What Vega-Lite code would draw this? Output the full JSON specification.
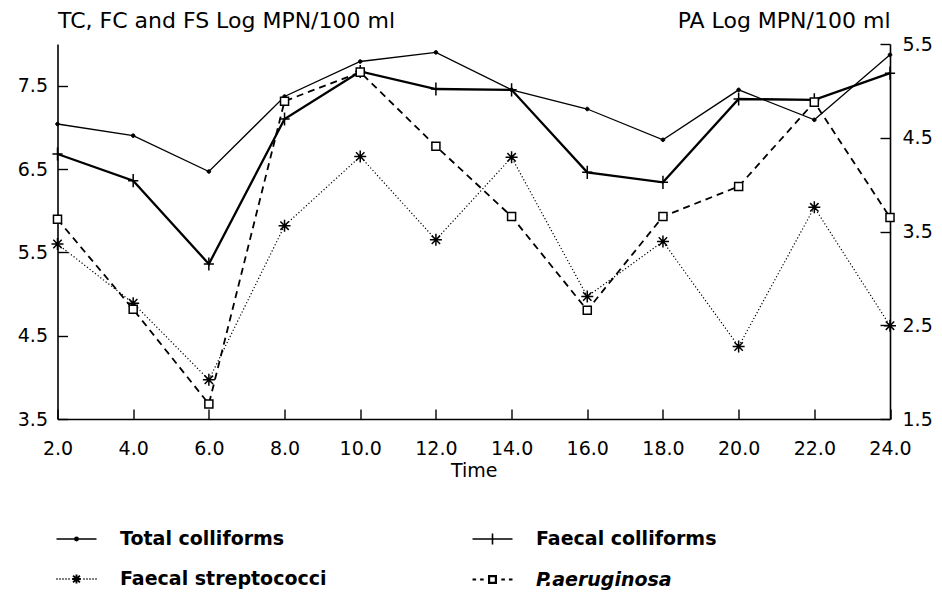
{
  "$schema": "https://vega.github.io/schema/vega-lite/v6.json",
  "width": 832.5,
  "height": 375,
  "autosize": "none",
  "padding": {"left": 57.5, "top": 44, "right": 52, "bottom": 177},
  "background": "white",
  "config": {
    "view": {"stroke": null},
    "font": "DejaVu Sans",
    "axis": {
      "grid": false,
      "domainColor": "black",
      "domainWidth": 1.6,
      "tickColor": "black",
      "tickWidth": 1.4,
      "tickSize": -10,
      "labelFont": "DejaVu Sans",
      "labelFontSize": 19,
      "labelColor": "black",
      "labelFlush": false,
      "labelOverlap": false,
      "titleFont": "DejaVu Sans",
      "titleFontWeight": "normal",
      "titleColor": "black"
    },
    "legend": {
      "columnPadding": 141,
      "rowPadding": 9,
      "padding": 0,
      "symbolSize": 1600,
      "symbolOpacity": 1,
      "labelOffset": 22,
      "labelFont": "DejaVu Sans",
      "labelFontSize": 19,
      "labelFontWeight": "bold",
      "labelColor": "black",
      "labelLimit": 400
    }
  },
  "data": {
    "values": [
      {"t": 2, "s": "Total colliforms", "v": 7.04},
      {"t": 4, "s": "Total colliforms", "v": 6.9},
      {"t": 6, "s": "Total colliforms", "v": 6.47},
      {"t": 8, "s": "Total colliforms", "v": 7.37},
      {"t": 10, "s": "Total colliforms", "v": 7.79},
      {"t": 12, "s": "Total colliforms", "v": 7.9},
      {"t": 14, "s": "Total colliforms", "v": 7.45},
      {"t": 16, "s": "Total colliforms", "v": 7.22},
      {"t": 18, "s": "Total colliforms", "v": 6.85},
      {"t": 20, "s": "Total colliforms", "v": 7.45},
      {"t": 22, "s": "Total colliforms", "v": 7.09},
      {"t": 24, "s": "Total colliforms", "v": 7.87},
      {"t": 2, "s": "Faecal colliforms", "v": 6.68},
      {"t": 4, "s": "Faecal colliforms", "v": 6.36},
      {"t": 6, "s": "Faecal colliforms", "v": 5.36},
      {"t": 8, "s": "Faecal colliforms", "v": 7.1},
      {"t": 10, "s": "Faecal colliforms", "v": 7.67},
      {"t": 12, "s": "Faecal colliforms", "v": 7.46},
      {"t": 14, "s": "Faecal colliforms", "v": 7.45},
      {"t": 16, "s": "Faecal colliforms", "v": 6.46},
      {"t": 18, "s": "Faecal colliforms", "v": 6.34},
      {"t": 20, "s": "Faecal colliforms", "v": 7.34},
      {"t": 22, "s": "Faecal colliforms", "v": 7.33},
      {"t": 24, "s": "Faecal colliforms", "v": 7.65},
      {"t": 2, "s": "Faecal streptococci", "v": 5.6},
      {"t": 4, "s": "Faecal streptococci", "v": 4.89},
      {"t": 6, "s": "Faecal streptococci", "v": 3.97},
      {"t": 8, "s": "Faecal streptococci", "v": 5.82},
      {"t": 10, "s": "Faecal streptococci", "v": 6.65},
      {"t": 12, "s": "Faecal streptococci", "v": 5.65},
      {"t": 14, "s": "Faecal streptococci", "v": 6.64},
      {"t": 16, "s": "Faecal streptococci", "v": 4.97},
      {"t": 18, "s": "Faecal streptococci", "v": 5.63},
      {"t": 20, "s": "Faecal streptococci", "v": 4.37},
      {"t": 22, "s": "Faecal streptococci", "v": 6.04},
      {"t": 24, "s": "Faecal streptococci", "v": 4.62},
      {"t": 2, "s": "P.aeruginosa", "v": 3.63},
      {"t": 4, "s": "P.aeruginosa", "v": 2.67},
      {"t": 6, "s": "P.aeruginosa", "v": 1.66},
      {"t": 8, "s": "P.aeruginosa", "v": 4.89},
      {"t": 10, "s": "P.aeruginosa", "v": 5.2},
      {"t": 12, "s": "P.aeruginosa", "v": 4.41},
      {"t": 14, "s": "P.aeruginosa", "v": 3.66},
      {"t": 16, "s": "P.aeruginosa", "v": 2.66},
      {"t": 18, "s": "P.aeruginosa", "v": 3.66},
      {"t": 20, "s": "P.aeruginosa", "v": 3.98},
      {"t": 22, "s": "P.aeruginosa", "v": 4.88},
      {"t": 24, "s": "P.aeruginosa", "v": 3.65}
    ]
  },
  "encoding": {
    "x": {
      "field": "t",
      "type": "quantitative",
      "scale": {"domain": [2, 24], "nice": false, "zero": false},
      "axis": {
        "title": "Time",
        "titleFontSize": 19,
        "titlePadding": 3,
        "values": [2, 4, 6, 8, 10, 12, 14, 16, 18, 20, 22, 24],
        "format": ".1f",
        "labelPadding": 30
      }
    }
  },
  "layer": [
    {
      "transform": [{"filter": "datum.s !== 'P.aeruginosa'"}],
      "encoding": {
        "y": {
          "field": "v",
          "type": "quantitative",
          "scale": {"domain": [3.5, 8.0], "nice": false, "zero": false},
          "axis": {
            "orient": "left",
            "title": "TC, FC and FS Log MPN/100 ml",
            "titleFontSize": 22,
            "titleAngle": 0,
            "titleAlign": "left",
            "titleBaseline": "middle",
            "titleX": 0,
            "titleY": -24,
            "values": [3.5, 4.5, 5.5, 6.5, 7.5],
            "format": ".1f",
            "labelPadding": 20
          }
        }
      },
      "layer": [
        {
          "transform": [{"filter": "datum.s === 'Total colliforms'"}],
          "mark": {"type": "line", "color": "black", "strokeWidth": 1.3},
          "encoding": {}
        },
        {
          "transform": [{"filter": "datum.s === 'Faecal colliforms'"}],
          "mark": {"type": "line", "color": "black", "strokeWidth": 2.3},
          "encoding": {}
        },
        {
          "transform": [{"filter": "datum.s === 'Faecal streptococci'"}],
          "mark": {"type": "line", "color": "black", "strokeWidth": 1.2, "strokeDash": [1.2, 2.2]},
          "encoding": {}
        },
        {
          "transform": [{"filter": "datum.s === 'Total colliforms'"}],
          "mark": {"type": "point", "shape": "M-0.3,0A0.3,0.3,0,1,0,0.3,0A0.3,0.3,0,1,0,-0.3,0Z", "filled": true, "fill": "black", "stroke": "black", "strokeWidth": 1, "opacity": 1, "size": 144}
        },
        {
          "transform": [{"filter": "datum.s === 'Faecal colliforms'"}],
          "mark": {"type": "point", "shape": "M0,-1.1L0,1.1M-0.85,0L0.85,0", "filled": false, "stroke": "black", "strokeWidth": 1.5, "opacity": 1, "size": 144}
        },
        {
          "transform": [{"filter": "datum.s === 'Faecal streptococci'"}],
          "mark": {"type": "point", "shape": "M0,-1L0,1M-1,0L1,0M-0.7,-0.7L0.7,0.7M-0.7,0.7L0.7,-0.7", "filled": false, "stroke": "black", "strokeWidth": 1.5, "opacity": 1, "size": 144}
        },
        {
          "transform": [{"filter": "datum.t === 2"}],
          "mark": {"type": "point", "filled": true, "stroke": "black", "opacity": 0, "size": 1600},
          "encoding": {
            "shape": {
              "field": "s",
              "scale": {
                "domain": ["Total colliforms", "Faecal colliforms", "Faecal streptococci", "P.aeruginosa"],
                "range": [
                  "M-1,0L1,0M-0.09,0A0.09,0.09,0,1,0,0.09,0A0.09,0.09,0,1,0,-0.09,0Z",
                  "M-1,0L1,0M0,-0.28L0,0.28",
                  "M-1,0L-0.95,0M-0.85,0L-0.8,0M-0.7,0L-0.65,0M-0.55,0L-0.5,0M-0.4,0L-0.35,0M0.35,0L0.4,0M0.5,0L0.55,0M0.65,0L0.7,0M0.8,0L0.85,0M0.95,0L1,0M0,-0.22L0,0.22M-0.22,0L0.22,0M-0.17,-0.17L0.17,0.17M-0.17,0.17L0.17,-0.17",
                  "M-1,0L-0.82,0M-0.62,0L-0.44,0M0.44,0L0.62,0M0.82,0L1,0M-0.17,-0.17L0.17,-0.17L0.17,0.17L-0.17,0.17Z"
                ]
              },
              "legend": {
                "title": null,
                "orient": "none",
                "direction": "horizontal",
                "legendX": -2.5,
                "legendY": 474,
                "columns": 2,
                "labelFontStyle": {"expr": "datum.value === 'P.aeruginosa' ? 'italic' : 'normal'"}
              }
            },
            "fill": {
              "field": "s",
              "scale": {
                "domain": ["Total colliforms", "Faecal colliforms", "Faecal streptococci", "P.aeruginosa"],
                "range": ["black", "white", "white", "white"]
              }
            },
            "strokeWidth": {
              "field": "s",
              "scale": {
                "domain": ["Total colliforms", "Faecal colliforms", "Faecal streptococci", "P.aeruginosa"],
                "range": [1.3, 2.2, 1.3, 1.4]
              }
            }
          }
        }
      ]
    },
    {
      "transform": [{"filter": "datum.s === 'P.aeruginosa'"}],
      "encoding": {
        "y": {
          "field": "v",
          "type": "quantitative",
          "scale": {"domain": [1.5, 5.5], "nice": false, "zero": false},
          "axis": {
            "orient": "right",
            "title": "PA Log MPN/100 ml",
            "titleFontSize": 22,
            "titleAngle": 0,
            "titleAlign": "right",
            "titleBaseline": "middle",
            "titleX": 0,
            "titleY": -24,
            "values": [1.5, 2.5, 3.5, 4.5, 5.5],
            "format": ".1f",
            "labelPadding": 22
          }
        }
      },
      "layer": [
        {
          "mark": {"type": "line", "color": "black", "strokeWidth": 1.8, "strokeDash": [7, 5]},
          "encoding": {}
        },
        {
          "mark": {"type": "point", "shape": "M-0.67,-0.67L0.67,-0.67L0.67,0.67L-0.67,0.67Z", "filled": true, "fill": "white", "stroke": "black", "strokeWidth": 1.5, "opacity": 1, "size": 144}
        }
      ]
    }
  ],
  "resolve": {"scale": {"y": "independent"}, "axis": {"y": "independent"}}
}
